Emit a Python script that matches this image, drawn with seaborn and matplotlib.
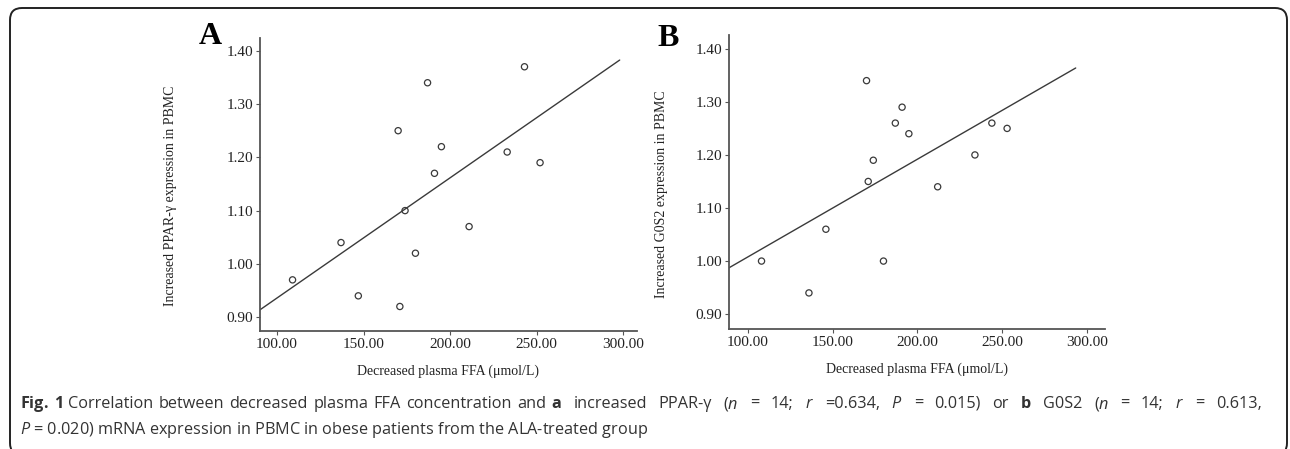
import numpy as np
import matplotlib.pyplot as plt
import seaborn as sns
from matplotlib.patches import FancyBboxPatch

# =========================
# DATA
# =========================

ffa_a = [109, 137, 147, 170, 171, 174, 180, 187, 191, 195, 211, 233, 243, 252]
ppar = [0.97, 1.04, 0.94, 1.25, 0.92, 1.10, 1.02, 1.34, 1.17, 1.22, 1.07, 1.21, 1.37, 1.19]

ffa_b = [108, 136, 146, 170, 171, 174, 180, 187, 191, 195, 212, 234, 244, 253]
g0s2 = [1.00, 0.94, 1.06, 1.34, 1.15, 1.19, 1.00, 1.26, 1.29, 1.24, 1.14, 1.20, 1.26, 1.25]

x_ticks = [100, 150, 200, 250, 300]
y_ticks = [0.90, 1.00, 1.10, 1.20, 1.30, 1.40]

x_label = "Decreased plasma FFA (\u03bcmol/L)"
y_label_a = "Increased PPAR-\u03b3 expression in PBMC"
y_label_b = "Increased G0S2 expression in PBMC"

caption1 = (r"$\mathbf{Fig.}$ $\mathbf{1}$ Correlation between decreased plasma FFA concentration and "
            r"$\mathbf{a}$ increased PPAR-γ ($n$ = 14; $r$ =0.634, $P$ = 0.015) or "
            r"$\mathbf{b}$ G0S2 ($n$ = 14; $r$ = 0.613,")
caption2 = r"$P$ = 0.020) mRNA expression in PBMC in obese patients from the ALA-treated group"

# =========================
# STYLE
# =========================

sns.set_style("ticks")
plt.rcParams['font.family'] = ['Liberation Serif', 'DejaVu Serif']
plt.rcParams['mathtext.fontset'] = 'custom'
plt.rcParams['mathtext.rm'] = 'Open Sans'
plt.rcParams['mathtext.it'] = 'Open Sans:italic'
plt.rcParams['mathtext.bf'] = 'Open Sans:bold'

ink = '#3a3a3a'
W, H = 1290, 449

fig = plt.figure(figsize=(12.9, 4.49), dpi=100)
fig.patch.set_facecolor('white')

# rounded frame around the figure (bottom edge runs off the image)
frame = FancyBboxPatch((10, -6), 1277, 447, boxstyle="round,pad=0,rounding_size=12",
                       transform=None, fill=False, edgecolor='#222222', linewidth=1.4)
fig.patches.append(frame)


def panel(rect, x, y, xlim, ylim, fit_span, ylabel, ylabel_x, letter, letter_pos):
    ax = fig.add_axes(rect)
    ax.set_xlim(*fit_span)
    ax.set_ylim(*ylim)
    sns.regplot(x=np.array(x), y=np.array(y), ax=ax, ci=None, truncate=False,
                color=ink,
                scatter_kws=dict(s=20, facecolors='none', edgecolors=ink,
                                 linewidths=0.9, alpha=1),
                line_kws=dict(color=ink, lw=1.0))
    ax.set_xlim(*xlim)
    ax.set_xticks(x_ticks)
    ax.set_yticks(y_ticks)
    ax.set_xticklabels([f"{v:.2f}" for v in x_ticks], fontsize=11)
    ax.set_yticklabels([f"{v:.2f}" for v in y_ticks], fontsize=11)
    ax.tick_params(direction='out', length=3, width=0.8, color='#555555',
                   labelcolor='#222222', pad=2)
    sns.despine(ax=ax)
    for s in ['left', 'bottom']:
        ax.spines[s].set_color('#555555')
        ax.spines[s].set_linewidth(1.3)
    ax.set_xlabel(x_label, fontsize=10, color='#222222')
    ax.xaxis.set_label_coords(0.5, -0.115)
    ax.set_ylabel(ylabel, fontsize=10, color='#222222')
    ax.yaxis.set_label_coords(ylabel_x, 0.46)
    fig.text(letter_pos[0], letter_pos[1], letter, fontsize=23, fontweight='bold',
             ha='center', va='center', color='black')
    return ax


panel([260 / W, 1 - 331 / H, 377 / W, 293 / H], ffa_a, ppar,
      (90.2, 308), (0.874, 1.424), (90.2, 298), y_label_a, -0.22,
      "A", (210 / W, 1 - 36 / H))

panel([729 / W, 1 - 329 / H, 376 / W, 294 / H], ffa_b, g0s2,
      (88.8, 310.8), (0.872, 1.426), (88.8, 293.5), y_label_b, -0.162,
      "B", (668 / W, 1 - 38 / H))

# =========================
# CAPTION (first line justified, extra room mostly in the statistics part)
# =========================

cap_size = 11.7
cap_color = '#333333'
x_start, x_end = 20, 1262

words = caption1.split(' ')
texts = [fig.text(0, 1 - 404 / H, w, fontsize=cap_size, family='Open Sans',
                  color=cap_color, va='center', ha='left') for w in words]
probe = fig.text(0, 0, "a a", fontsize=cap_size, family='Open Sans', alpha=0)
probe2 = fig.text(0, 0, "aa", fontsize=cap_size, family='Open Sans', alpha=0)
fig.canvas.draw()
renderer = fig.canvas.get_renderer()
space = probe.get_window_extent(renderer).width - probe2.get_window_extent(renderer).width
probe.remove()
probe2.remove()
widths = [t.get_window_extent(renderer).width for t in texts]
n_gaps = len(words) - 1
split = words.index("and") + 1
weights = [0.15 if i < split else 1.0 for i in range(n_gaps)]
extra = x_end - x_start - sum(widths) - space * n_gaps
pos = x_start
for i, (t, w) in enumerate(zip(texts, widths)):
    t.set_x(pos / W)
    if i < n_gaps:
        pos += w + space + extra * weights[i] / sum(weights)

fig.text(x_start / W, 1 - 430 / H, caption2, fontsize=cap_size, family='Open Sans',
         color=cap_color, va='center', ha='left')

plt.savefig("out.png", dpi=100, facecolor='white')
